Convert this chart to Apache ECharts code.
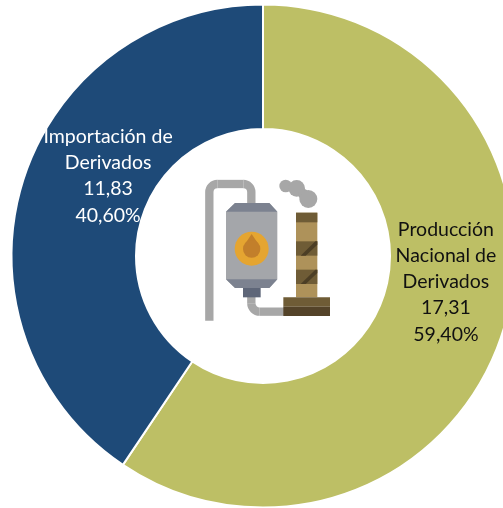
<!DOCTYPE html>
<html><head><meta charset="utf-8">
<style>html,body{margin:0;padding:0;background:#fff;overflow:hidden}#c{width:503px;height:508px}</style>
<script src="https://cdn.jsdelivr.net/npm/echarts@6/dist/echarts.min.js"></script></head>
<body><div id="c"></div>
<script>
const categories = ['Producción\nNacional de\nDerivados', 'Importación de\nDerivados'];
const values = [17.31, 11.83];
const percentLabels = ['59,40%', '40,60%'];
const valueLabels = ['17,31', '11,83'];
const colors = ['#BDBF65', '#1E4A78'];
const labelColors = ['#111111', '#FFFFFF'];
const labelShift = [[-1, -30], [29, -24]];

const poly = (points, fill) => ({ type: 'polygon', shape: { points }, style: { fill } });
const rect = (x, y, width, height, fill) => ({ type: 'rect', shape: { x, y, width, height }, style: { fill } });
const circ = (cx, cy, r, fill) => ({ type: 'circle', shape: { cx, cy, r }, style: { fill } });
const pipeStyle = { stroke: '#A7A7A7', lineWidth: 25, fill: null };
const seg = (points) => ({ type: 'polyline', shape: { points }, style: pipeStyle });
const bend = (cx, cy, r, startAngle, endAngle) => ({ type: 'arc', shape: { cx, cy, r, startAngle, endAngle, clockwise: true }, style: pipeStyle });
const PI = Math.PI;

const iconParts = [
  seg([[58, 482], [58, 96]]),
  bend(82, 96, 24, PI, 1.5 * PI),
  seg([[82, 72], [160, 72]]),
  bend(160, 96, 24, 1.5 * PI, 2 * PI),
  seg([[184, 96], [184, 135]]),
  seg([[184, 405], [184, 430]]),
  bend(209, 430, 25, 0.5 * PI, PI),
  seg([[209, 455], [285, 455]]),
  poly([[135, 129], [238, 129], [262, 155], [262, 358], [238, 384], [135, 384], [108, 358], [108, 155]], '#A4A6AA'),
  poly([[135, 129], [238, 129], [262, 155], [108, 155]], '#7C8290'),
  poly([[108, 358], [262, 358], [238, 384], [135, 384]], '#7C8290'),
  rect(159, 384, 53, 28, '#5E6678'),
  circ(185, 266, 51, '#E5A531'),
  poly([[185, 222], [197, 240], [206, 252], [185, 268], [164, 252], [173, 240]], '#C27F2B'),
  circ(185, 267, 26, '#C27F2B'),
  circ(287, 78, 19, '#A7A7A7'),
  circ(320, 85, 25, '#A7A7A7'),
  circ(340, 102, 16, '#A7A7A7'),
  circ(355, 117, 27, '#A7A7A7'),
  rect(318, 158, 64, 254, '#AE925A'),
  rect(318, 158, 64, 29, '#6F5C36'),
  rect(318, 244, 64, 43, '#6F5C36'),
  rect(318, 329, 64, 43, '#6F5C36'),
  poly([[332, 287], [376, 244], [382, 244], [382, 254], [347, 287]], '#4C3E25'),
  poly([[332, 372], [376, 329], [382, 329], [382, 339], [347, 372]], '#4C3E25'),
  rect(280, 412, 140, 28, '#6F5C36'),
  rect(280, 440, 140, 28, '#544329')
];

const chart = echarts.init(document.getElementById('c'), null, { renderer: 'canvas' });
chart.setOption({
  animation: false,
  backgroundColor: '#fff',
  series: [{
    type: 'pie',
    center: [263, 256],
    radius: [127, 251.5],
    startAngle: 90,
    clockwise: true,
    silent: true,
    itemStyle: { borderColor: '#fff', borderWidth: 2 },
    label: { show: true, position: 'inside', fontFamily: 'Lato', fontSize: 19.5, lineHeight: 26.2, align: 'center' },
    labelLine: { show: false },
    labelLayout: (p) => ({ dx: labelShift[p.dataIndex][0], dy: labelShift[p.dataIndex][1] }),
    data: categories.map((name, i) => ({
      name, value: values[i],
      itemStyle: { color: colors[i] },
      label: { color: labelColors[i], formatter: name + '\n' + valueLabels[i] + '\n' + percentLabels[i] }
    }))
  }],
  graphic: [{ type: 'group', x: 190, y: 160, scaleX: 1 / 3, scaleY: 1 / 3, children: iconParts }]
});
</script></body></html>
